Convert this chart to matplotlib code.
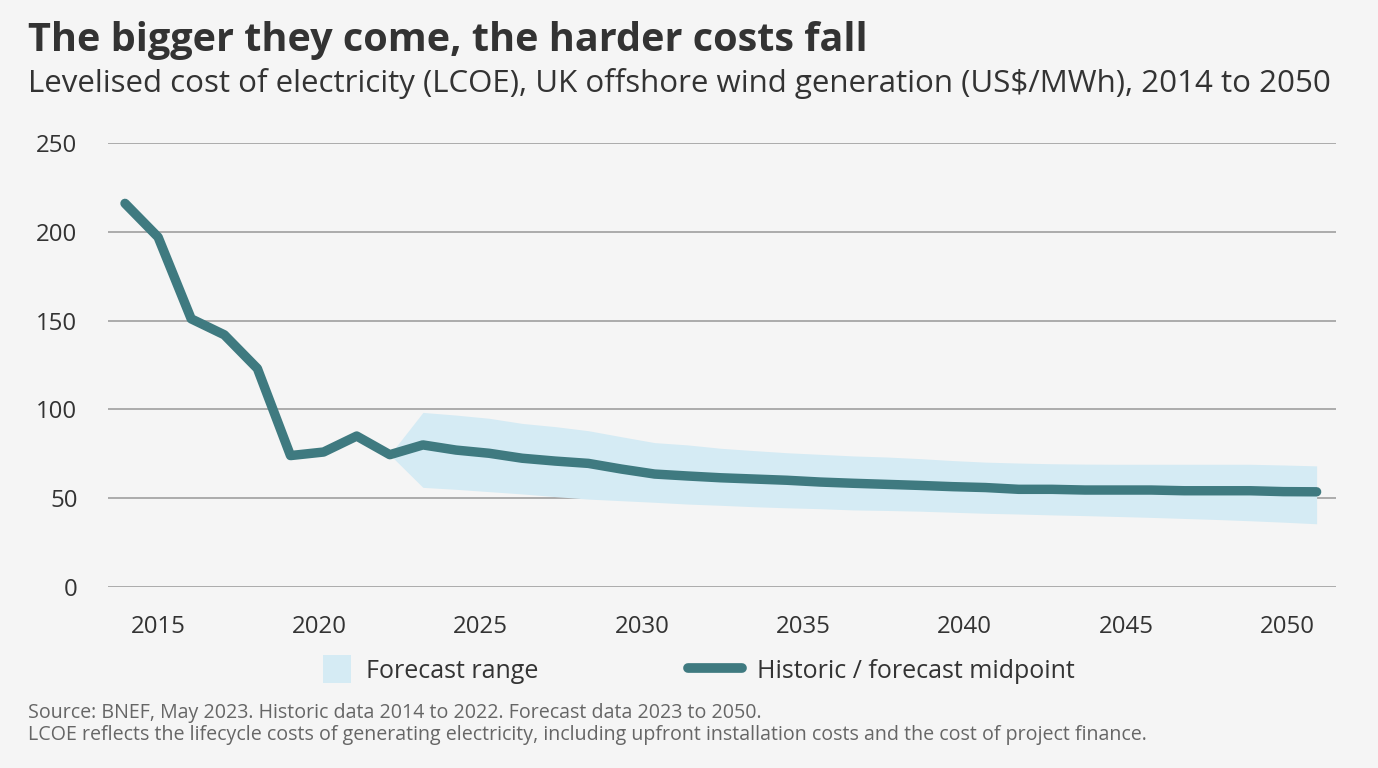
import numpy as np
import matplotlib
matplotlib.use("Agg")
import matplotlib.pyplot as plt
from matplotlib.patches import Patch, Rectangle
from matplotlib.lines import Line2D
from matplotlib.legend_handler import HandlerPatch

plt.rcParams['font.family'] = ['Open Sans', 'DejaVu Sans']

years = list(range(2014, 2051))
midpoint = [216, 197, 151, 142, 123, 74, 76, 85, 74.5, 80,
            77.1, 75.3, 72.5, 70.9, 69.6, 66.4, 63.6, 62.5, 61.5, 60.8,
            60.1, 59.1, 58.4, 57.8, 57.2, 56.5, 56.0, 55.0, 55.0, 54.6,
            54.6, 54.6, 54.2, 54.2, 54.2, 53.7, 53.6]

range_years = list(range(2022, 2051))
range_low = [74.5, 56.1, 55.0, 53.7, 52.4, 50.9, 49.5, 48.6, 47.7, 46.7,
             46.0, 45.2, 44.6, 44.1, 43.4, 43.1, 42.7, 42.1, 41.5, 41.1,
             40.6, 40.2, 39.7, 39.2, 38.6, 38.0, 37.3, 36.5, 35.6]
range_high = [74.5, 98.3, 96.8, 95.0, 92.1, 90.3, 88.0, 84.6, 81.3, 80.0,
              78.1, 76.8, 75.6, 74.7, 73.8, 73.2, 72.3, 71.2, 70.3, 69.8,
              69.4, 69.2, 69.1, 69.1, 69.1, 69.1, 69.1, 68.7, 68.2]

x_tick_labels = ['2015', '2020', '2025', '2030', '2035', '2040', '2045', '2050']
y_ticks = [0, 50, 100, 150, 200, 250]

title = "The bigger they come, the harder costs fall"
subtitle = "Levelised cost of electricity (LCOE), UK offshore wind generation (US$/MWh), 2014 to 2050"
footer = ("Source: BNEF, May 2023. Historic data 2014 to 2022. Forecast data 2023 to 2050.\n"
          "LCOE reflects the lifecycle costs of generating electricity, including upfront installation costs and the cost of project finance.")

BG = '#f5f5f5'
LINE = '#3f7a80'
BAND = '#d5ebf4'
GRID = '#a6a6a6'
TEXT = '#333333'

fig = plt.figure(figsize=(13.78, 7.68), dpi=100, facecolor=BG)
ax = fig.add_axes([108/1378, 181/768, (1336-108)/1378, 444/768])
ax.set_facecolor(BG)

ax.fill_between(range_years, range_low, range_high, color=BAND, lw=0, zorder=2)
ax.plot(years, midpoint, color=LINE, lw=6.8, solid_capstyle='round',
        solid_joinstyle='round', zorder=3)

px_per_year = 33.1
ax.set_xlim(2014 - 17/px_per_year, 2014 + (1336-125)/px_per_year)
ax.set_ylim(0, 250)

tick_pos = [2015 + k*161.3/px_per_year for k in range(len(x_tick_labels))]
ax.set_xticks(tick_pos)
ax.set_xticklabels(x_tick_labels)
ax.set_yticks(y_ticks)
ax.tick_params(axis='both', length=0, labelsize=17.3, colors=TEXT)
ax.tick_params(axis='x', pad=20.5)
ax.tick_params(axis='y', pad=22)
for s in ax.spines.values():
    s.set_visible(False)
ax.yaxis.grid(True, color=GRID, lw=1.3, zorder=1)
ax.set_axisbelow(True)

fig.text(28/1378, 1-21/768, title, fontsize=28.5, fontweight='bold', color=TEXT,
         va='top', ha='left')
fig.text(28/1378, 1-68/768, subtitle, fontsize=22.5, color=TEXT, va='top', ha='left')
fig.text(28/1378, 1-703/768, footer, fontsize=14.1, color='#666666', va='top',
         ha='left', linespacing=1.15)


def square_patch(legend, orig_handle, xdescent, ydescent, width, height, fontsize):
    side = 28 * 72 / 100
    return Rectangle((width - side - xdescent, height / 2 - side / 2 - ydescent),
                     side, side)


handles = [Patch(facecolor=BAND, edgecolor='none', label='Forecast range'),
           Line2D([0], [0], color=LINE, lw=7, solid_capstyle='round',
                  label='Historic / forecast midpoint')]
fs = 18
fig.legend(handles=handles, loc='center', bbox_to_anchor=(686/1378, 1-671/768),
           ncol=2, frameon=False, fontsize=fs, handlelength=(58*0.72)/fs * 0.92,
           handleheight=1.0, columnspacing=6.0, handletextpad=0.6, labelcolor=TEXT,
           handler_map={Patch: HandlerPatch(patch_func=square_patch)})

fig.savefig('out.png', dpi=100, facecolor=BG)
